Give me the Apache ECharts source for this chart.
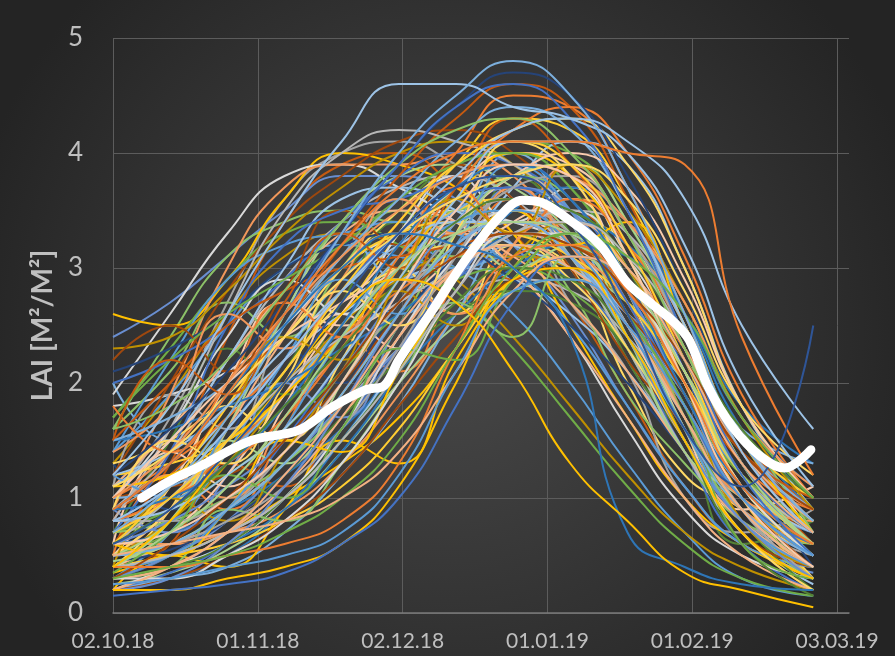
<!DOCTYPE html>
<html>
<head>
<meta charset="utf-8">
<script src="https://cdn.jsdelivr.net/npm/echarts@6/dist/echarts.min.js"></script>
<style>
html,body{margin:0;padding:0;background:#2a2a2a;}
#chart{width:895px;height:656px;}
</style>
</head>
<body>
<div id="chart"></div>
<script>
// Days since 02.10.18 at which each LAI curve is sampled
const sampleDays = [0, 12, 24, 36, 48, 60, 72, 84, 96, 108, 120, 132, 147];

// Early developing fields
const earlyCurves = [
  [1.0,1.7,2.7,3.6,4.0,4.1,3.9,3.6,3.0,2.2,1.4,0.8,0.5],
  [0.6,1.3,2.4,3.4,3.9,4.0,3.7,3.3,2.7,1.9,1.1,0.6,0.4],
  [2.4,2.7,3.1,3.5,3.8,3.8,3.6,3.2,2.6,1.8,1.1,0.6,0.35],
  [1.6,2.4,3.1,3.4,3.5,3.4,3.5,3.6,3.1,2.3,1.4,0.8,0.6],
  [0.5,1.1,2.0,2.7,2.5,2.7,3.1,3.4,3.2,2.5,1.5,0.9,0.5],
  [2.6,2.5,2.9,3.6,4.0,3.9,3.7,3.3,2.5,1.7,1.0,0.6,0.3],
  [1.9,2.6,3.3,3.8,3.9,3.7,3.4,3.0,2.4,1.6,0.9,0.5,0.3],
  [0.9,1.9,3.0,3.7,3.9,3.9,4.0,3.8,3.2,2.4,1.5,0.9,0.6],
  [1.2,2.0,2.8,3.4,3.8,4.1,4.2,4.0,3.5,2.7,1.8,1.1,0.7],
  [0.4,0.8,1.6,2.6,3.4,3.8,3.9,3.7,3.3,2.6,1.6,0.8,0.4],
  [1.4,2.2,2.9,3.2,3.3,3.4,3.3,3.0,2.5,1.8,1.1,0.6,0.4],
  [2.3,2.4,2.8,3.3,3.7,4.0,4.1,3.9,3.4,2.6,1.7,1.0,0.6],
  [0.8,1.6,2.6,3.5,4.0,4.2,4.1,3.9,3.5,2.9,2.0,1.2,0.7],
  [1.1,1.5,2.2,3.0,3.6,3.7,3.5,3.2,3.0,2.6,1.9,1.1,0.7],
  [0.7,1.4,2.5,3.2,3.5,3.6,3.8,3.9,3.6,2.8,1.8,1.0,0.6],
  [1.7,2.2,2.6,2.9,3.2,3.6,3.9,4.0,3.7,2.9,1.9,1.2,0.8]
];

// Main group
const mainCurves = [
  [0.3,0.5,0.9,1.5,2.2,2.9,3.5,3.9,3.8,3.2,2.1,1.1,0.5],
  [0.5,0.7,1.1,1.7,2.4,3.1,3.7,4.1,4.0,3.4,2.4,1.3,0.6],
  [0.2,0.3,0.5,0.9,1.5,2.2,2.9,3.4,3.3,2.7,1.8,1.0,0.4],
  [0.8,1.0,1.4,2.0,2.6,3.3,3.9,4.3,4.2,3.6,2.6,1.5,0.8],
  [0.4,0.6,0.8,1.2,1.7,2.4,3.0,3.3,3.1,2.5,1.5,0.7,0.3],
  [1.0,1.3,1.7,2.2,2.8,3.4,4.0,4.5,4.4,3.7,2.6,1.5,0.9],
  [0.3,0.4,0.7,1.2,1.9,2.7,3.3,3.6,3.4,2.8,1.9,1.0,0.5],
  [0.6,0.9,1.4,2.1,2.9,3.5,3.9,4.0,3.7,3.0,2.0,1.1,0.6],
  [0.2,0.3,0.4,0.7,1.2,1.8,2.6,3.2,3.2,2.8,2.0,1.1,0.5],
  [1.3,1.5,1.9,2.4,3.0,3.5,3.9,4.2,4.3,3.9,3.0,1.8,1.0],
  [0.5,0.6,0.9,1.4,2.0,2.7,3.2,3.5,3.3,2.6,1.7,0.9,0.4],
  [0.9,1.2,1.8,2.5,3.2,3.8,4.3,4.6,4.4,3.6,2.5,1.4,0.8],
  [0.3,0.5,0.8,1.3,1.8,2.3,2.9,3.3,3.2,2.9,2.3,1.5,0.9],
  [0.7,0.8,1.0,1.3,1.8,2.5,3.3,3.8,3.6,2.8,1.7,0.8,0.3],
  [0.4,0.7,1.2,1.9,2.6,3.2,3.7,4.0,3.9,3.3,2.3,1.3,0.7],
  [1.1,1.2,1.5,1.9,2.4,3.0,3.6,4.0,3.8,3.1,2.0,1.0,0.5],
  [0.2,0.4,0.6,1.0,1.6,2.4,3.1,3.5,3.5,3.0,2.1,1.2,0.6],
  [0.6,0.8,1.1,1.5,2.1,2.8,3.4,3.7,3.5,2.8,1.9,1.0,0.5],
  [1.5,1.7,2.0,2.5,3.1,3.6,4.1,4.4,4.2,3.5,2.5,1.5,0.9],
  [0.3,0.4,0.7,1.1,1.7,2.4,3.0,3.4,3.4,3.0,2.3,1.4,0.8],
  [0.8,1.1,1.6,2.2,2.8,3.3,3.6,3.7,3.4,2.7,1.8,1.0,0.5],
  [0.5,0.6,0.8,1.1,1.6,2.3,3.1,3.7,3.8,3.3,2.4,1.4,0.7],
  [0.4,0.5,0.9,1.6,2.4,3.0,3.4,3.5,3.2,2.5,1.6,0.8,0.4],
  [1.2,1.6,2.1,2.7,3.3,3.9,4.4,4.7,4.5,3.8,2.8,1.7,1.0],
  [0.3,0.3,0.5,0.8,1.3,2.0,2.8,3.3,3.3,2.9,2.0,1.1,0.5],
  [0.9,1.0,1.3,1.8,2.5,3.2,3.7,3.9,3.6,2.9,1.9,1.1,0.6],
  [0.6,0.9,1.3,1.8,2.3,2.9,3.4,3.6,3.5,3.1,2.4,1.6,1.0],
  [0.2,0.3,0.6,1.1,1.8,2.6,3.2,3.4,3.1,2.4,1.5,0.8,0.3],
  [1.0,1.4,2.0,2.6,3.1,3.5,3.8,3.9,3.8,3.4,2.7,1.7,1.1],
  [0.4,0.5,0.7,1.0,1.5,2.1,2.8,3.3,3.4,3.1,2.4,1.5,0.8],
  [0.7,1.0,1.5,2.1,2.8,3.4,3.9,4.1,3.9,3.2,2.2,1.2,0.6],
  [0.5,0.6,0.9,1.3,1.9,2.6,3.2,3.4,3.1,2.4,1.6,0.9,0.5],
  [1.6,1.8,2.2,2.8,3.4,3.9,4.2,4.3,4.0,3.3,2.3,1.3,0.7],
  [0.3,0.6,1.0,1.5,2.1,2.7,3.1,3.3,3.2,2.8,2.2,1.4,0.9],
  [0.8,0.9,1.2,1.6,2.2,2.9,3.6,4.1,4.1,3.5,2.5,1.4,0.7],
  [0.2,0.4,0.7,1.2,1.8,2.5,3.0,3.2,3.0,2.5,1.7,0.9,0.4],
  [1.1,1.4,1.9,2.4,2.9,3.3,3.6,3.8,3.9,3.6,2.8,1.8,1.2],
  [0.6,0.7,1.0,1.4,2.0,2.8,3.5,3.9,3.8,3.1,2.0,1.0,0.4],
  [0.4,0.7,1.1,1.7,2.4,3.0,3.3,3.4,3.3,2.9,2.1,1.2,0.6],
  [0.9,1.3,1.9,2.6,3.3,3.9,4.4,4.6,4.3,3.5,2.4,1.3,0.7]
];

// Mixed shapes
const mixedCurves = [
  [0.35,0.5,0.7,1.0,1.3,1.7,2.3,3.0,3.4,3.2,2.4,1.3,0.6],
  [1.8,1.9,2.1,2.5,3.0,3.3,3.5,3.4,3.2,2.8,2.0,1.1,0.6],
  [0.6,0.6,0.7,0.9,1.3,1.9,2.6,3.2,3.6,3.4,2.7,1.7,1.0],
  [1.0,1.1,1.2,1.5,2.0,2.6,3.2,3.5,3.3,2.7,1.9,1.2,0.8],
  [0.25,0.35,0.55,0.9,1.4,2.0,2.5,2.8,2.9,2.7,2.1,1.2,0.5],
  [1.4,1.9,2.5,3.0,3.2,3.1,3.0,3.1,3.0,2.6,1.8,1.0,0.5],
  [0.5,0.8,1.3,1.9,2.5,2.9,3.1,3.1,3.0,2.7,2.0,1.2,0.7],
  [0.9,1.4,2.2,2.9,3.4,3.7,3.8,3.6,3.1,2.3,1.4,0.7,0.3],
  [0.4,0.5,0.7,1.0,1.5,2.2,3.0,3.7,4.1,3.9,3.0,1.8,0.9],
  [2.0,2.2,2.5,2.9,3.4,3.8,4.0,3.9,3.5,2.8,1.9,1.1,0.6],
  [0.7,0.9,1.2,1.6,2.1,2.6,2.9,3.0,2.8,2.3,1.6,0.9,0.4],
  [0.3,0.4,0.6,0.9,1.4,2.1,2.9,3.5,3.7,3.4,2.6,1.6,0.9],
  [1.2,1.3,1.5,1.9,2.5,3.1,3.5,3.6,3.4,3.0,2.3,1.5,1.0],
  [0.5,0.9,1.6,2.4,3.0,3.3,3.3,3.1,2.7,2.1,1.4,0.8,0.4],
  [0.8,1.0,1.3,1.7,2.3,3.0,3.7,4.2,4.4,4.0,3.1,1.9,1.0],
  [0.45,0.55,0.8,1.2,1.8,2.5,3.1,3.4,3.3,2.9,2.2,1.4,0.8],
  [1.5,1.6,1.8,2.0,2.3,2.6,3.0,3.3,3.4,3.2,2.6,1.7,1.1],
  [0.6,1.0,1.5,2.0,2.4,2.7,3.0,3.3,3.5,3.3,2.5,1.5,0.8],
  [0.2,0.3,0.5,0.8,1.2,1.8,2.4,2.9,3.0,2.6,1.9,1.0,0.4],
  [1.0,1.5,2.0,2.4,2.7,3.0,3.4,3.8,4.0,3.7,2.9,1.8,1.0]
];

// Irregular, wobbly fields
const irregularCurves = [
  [0.5,1.2,0.9,1.6,2.4,2.1,2.9,3.6,3.2,2.4,1.8,0.9,0.6],
  [1.3,0.9,1.5,2.3,2.0,2.8,3.5,3.1,3.6,2.9,1.7,1.2,0.4],
  [0.7,1.5,2.3,1.9,2.7,3.4,3.0,3.8,3.3,2.2,1.5,0.6,0.8],
  [2.0,1.5,1.8,2.6,3.3,2.9,3.4,4.0,3.4,2.5,2.0,1.0,0.5],
  [0.4,0.9,1.8,1.5,2.2,3.0,2.6,3.2,3.0,2.0,1.2,0.9,0.3],
  [1.1,1.9,1.6,2.5,3.1,3.6,3.2,3.5,2.7,2.1,1.0,0.7,0.9],
  [0.3,0.6,1.3,1.1,1.9,2.6,3.3,2.9,3.5,3.0,2.0,1.3,0.6],
  [0.9,0.7,1.2,2.0,1.7,2.5,3.1,3.7,3.1,2.6,2.2,1.1,0.7],
  [1.6,2.1,2.7,2.4,3.0,3.5,3.1,3.3,2.8,1.9,1.3,0.8,0.3],
  [0.6,1.4,1.1,1.8,2.6,2.3,3.0,3.4,3.6,2.8,1.6,0.9,1.1],
  [0.2,0.5,0.4,0.9,1.5,1.3,2.2,2.9,3.3,2.7,2.1,1.0,0.6],
  [1.0,1.6,2.4,2.9,2.6,3.3,3.8,3.4,3.7,3.1,2.3,1.5,0.7],
  [0.8,1.2,1.0,1.7,2.3,2.9,2.6,3.2,3.9,3.3,2.5,1.4,0.9],
  [2.2,2.5,2.1,2.8,3.5,3.2,3.9,3.6,3.0,2.2,1.6,0.7,0.4],
  [0.5,0.8,1.5,1.3,2.0,2.8,3.4,3.0,3.2,2.4,1.4,1.0,0.5],
  [1.2,1.0,1.6,2.2,2.9,2.6,3.2,3.9,3.5,2.6,1.9,1.2,0.6],
  [0.4,1.0,0.8,1.4,2.1,2.8,2.5,3.1,3.4,3.0,2.0,0.8,0.4],
  [1.4,1.8,2.6,2.3,2.9,3.6,3.3,3.7,3.2,2.7,1.7,1.0,0.8],
  [0.3,0.4,0.9,0.8,1.3,2.0,2.7,2.4,3.1,2.9,2.2,1.6,0.7],
  [0.9,1.5,1.3,2.0,2.8,2.5,3.3,4.1,3.8,2.9,2.1,1.1,0.5],
  [1.8,1.4,2.0,2.7,2.4,3.1,3.7,3.3,3.6,3.2,2.4,1.3,0.9],
  [0.6,0.5,0.9,1.5,1.4,2.1,2.9,3.5,3.2,3.4,2.5,1.5,0.7],
  [0.35,0.7,1.2,1.0,1.6,2.3,2.2,2.9,3.3,2.6,1.8,0.6,0.3],
  [1.5,2.2,1.9,2.7,3.3,3.0,3.7,4.3,3.9,3.2,2.2,1.4,1.0],
  [0.7,1.1,1.7,2.4,2.2,2.9,3.6,3.3,3.9,3.5,2.7,1.7,0.9]
];

// Moderate fields with lower peaks
const moderateCurves = [
  [0.3,0.7,1.4,2.2,2.9,3.2,3.0,2.6,2.0,1.3,0.7,0.3,0.15],
  [1.3,1.9,2.6,3.1,3.3,3.2,2.9,2.4,1.8,1.2,0.7,0.4,0.2],
  [0.5,0.6,0.9,1.3,1.8,2.3,2.7,2.9,2.8,2.4,1.7,0.9,0.3],
  [0.9,1.2,1.7,2.2,2.6,2.9,3.0,2.9,2.6,2.1,1.4,0.7,0.25],
  [0.2,0.35,0.6,1.0,1.6,2.3,2.9,3.1,2.9,2.3,1.4,0.6,0.2],
  [1.7,2.3,2.9,3.3,3.4,3.2,2.8,2.3,1.7,1.1,0.6,0.3,0.15],
  [0.6,0.7,0.9,1.2,1.6,2.1,2.6,3.0,3.2,3.1,2.6,1.8,1.3],
  [0.4,0.5,0.6,0.8,1.1,1.6,2.3,2.9,3.1,2.8,2.0,1.0,0.3],
  [1.1,1.6,2.2,2.8,3.3,3.5,3.4,3.0,2.4,1.7,1.0,0.5,0.2],
  [0.7,1.0,1.4,1.9,2.4,2.8,3.1,3.2,3.0,2.5,1.8,1.0,0.4],
  [2.1,2.3,2.6,3.0,3.2,3.3,3.2,2.9,2.5,2.0,1.4,0.8,0.4],
  [0.3,0.5,0.8,1.2,1.7,2.2,2.6,2.8,2.7,2.3,1.6,0.8,0.2],
  [1.0,1.1,1.4,1.9,2.5,3.1,3.5,3.7,3.5,3.0,2.3,1.6,1.3],
  [0.5,0.9,1.5,2.1,2.7,3.0,3.2,3.2,2.9,2.3,1.5,0.7,0.2],
  [0.8,0.8,1.0,1.4,2.0,2.7,3.3,3.6,3.4,2.7,1.8,0.9,0.3],
  [1.5,2.0,2.5,2.8,3.0,3.1,3.2,3.3,3.2,2.9,2.3,1.5,0.9],
  [0.3,0.4,0.6,1.0,1.5,2.1,2.7,3.0,2.9,2.4,1.5,0.6,0.15],
  [0.6,1.1,1.8,2.5,3.0,3.3,3.4,3.3,3.1,2.7,2.0,1.2,0.6],
  [1.2,1.4,1.8,2.3,2.8,3.2,3.4,3.4,3.1,2.5,1.7,0.9,0.4],
  [0.45,0.6,0.9,1.3,1.9,2.6,3.3,3.8,3.9,3.4,2.4,1.3,0.6]
];

// Late developing fields
const lateCurves = [
  [0.2,0.2,0.3,0.4,0.6,1.1,2.0,2.9,3.0,2.4,1.5,0.7,0.3],
  [0.4,0.4,0.5,0.6,0.8,1.3,2.3,3.1,3.2,2.8,2.0,1.1,0.6],
  [0.15,0.2,0.25,0.35,0.6,1.0,1.8,2.7,3.1,2.9,2.2,1.2,0.5],
  [0.3,0.4,0.5,0.7,1.0,1.5,2.3,3.0,3.3,3.1,2.6,1.7,1.0],
  [0.5,0.6,0.7,0.8,1.0,1.4,2.1,2.8,3.1,2.9,2.2,1.3,0.7],
  [0.25,0.3,0.4,0.5,0.7,1.2,2.1,2.8,2.9,2.5,1.8,1.0,0.5]
];
const lateColors = ['#FFC000', '#ED7D31', '#4472C4', '#70AD47', '#F4B183', '#5B9BD5'];

// Special shapes: very high, early collapse, late persistence, late regrowth
const specialCurves = [
  [1.2,1.8,2.6,3.4,4.1,4.6,4.6,4.4,4.3,4.0,3.2,2.0,1.1],
  [0.7,1.1,1.7,2.5,3.3,4.0,4.5,4.8,4.5,3.7,2.6,1.5,0.8],
  [0.9,1.3,1.9,2.5,3.0,3.3,3.2,3.0,2.4,0.7,0.4,0.25,0.2],
  [0.4,0.8,1.4,2.0,2.6,2.9,2.7,2.1,1.3,0.8,0.35,0.2,0.05],
  [0.8,1.1,1.6,2.2,2.8,3.3,3.8,4.2,4.3,4.1,3.6,2.5,1.6],
  [0.9,1.3,1.9,2.6,3.2,3.7,4.0,4.1,4.1,4.0,3.9,2.4,1.2],
  [0.6,0.9,1.4,2.0,2.7,3.3,3.7,3.8,3.4,2.6,1.6,1.1,2.5]
];
const specialColors = ['#9DC3E6', '#7CAFDD', '#2E75B6', '#FFC000', '#9DC3E6', '#ED7D31', '#2F5597'];

// Mean LAI curve (thick white)
const meanDays   = [6, 12, 18, 29, 39, 46, 53, 57, 60, 67, 74, 81, 86, 90, 95, 102, 108, 113, 118, 121, 125, 130, 136, 141, 146.5];
const meanValues = [1.0, 1.15, 1.27, 1.5, 1.59, 1.79, 1.94, 1.98, 2.2, 2.63, 3.07, 3.44, 3.59, 3.57, 3.44, 3.21, 2.87, 2.69, 2.52, 2.37, 1.96, 1.62, 1.36, 1.26, 1.42];

const xTickLabels = ['02.10.18', '01.11.18', '02.12.18', '01.01.19', '01.02.19', '03.03.19'];
const yTickLabels = ['0', '1', '2', '3', '4', '5'];

const palette = ['#4472C4','#ED7D31','#A5A5A5','#FFC000','#5B9BD5','#70AD47',
                 '#264478','#C55A11','#D9D9D9','#BF9000','#2E75B6','#548235',
                 '#698ED0','#F1975A','#B7B7B7','#FFCD33','#7CAFDD','#8CC168',
                 '#9E480E','#9DC3E6','#F4B183','#FFD966','#F8CBAD','#A9D18E'];

// interleave groups so colours and shapes mix
const groups = [mainCurves, irregularCurves, earlyCurves, mixedCurves, moderateCurves];
const ordered = [];
const maxLen = Math.max(...groups.map(g => g.length));
for (let i = 0; i < maxLen; i++) {
  groups.forEach(g => { if (i < g.length) ordered.push(g[i]); });
}

function lineSeries(c, color) {
  return {
    type: 'line',
    data: sampleDays.map((d, i) => [d, c[i]]),
    smooth: 0.5,
    showSymbol: false,
    silent: true,
    lineStyle: { width: 2, color: color }
  };
}

const series = ordered.map((c, k) => lineSeries(c, palette[k % palette.length]));
lateCurves.forEach((c, k) => series.push(lineSeries(c, lateColors[k])));
specialCurves.forEach((c, k) => series.push(lineSeries(c, specialColors[k])));

series.push({
  type: 'line',
  data: meanDays.map((d, i) => [d, meanValues[i]]),
  smooth: 0.35,
  showSymbol: false,
  silent: true,
  z: 10,
  lineStyle: { width: 9, color: '#ffffff', cap: 'round', join: 'round' }
});

const chart = echarts.init(document.getElementById('chart'), null, { renderer: 'canvas' });
chart.setOption({
  animation: false,
  backgroundColor: {
    type: 'radial', x: 0.5, y: 0.5, r: 0.75,
    colorStops: [{ offset: 0, color: '#4a4a4a' }, { offset: 1, color: '#242424' }]
  },
  textStyle: { fontFamily: 'Lato' },
  grid: { left: 113, right: 46, top: 38, bottom: 43, containLabel: false },
  xAxis: {
    type: 'value', min: 0, max: 154.5, interval: 30.4,
    axisLine: { show: true, lineStyle: { color: '#7a7a7a', width: 1.5 } },
    axisTick: { show: false },
    splitLine: { show: true, showMinLine: true, showMaxLine: false, lineStyle: { color: '#5c5c5c', width: 1 } },
    axisLabel: {
      color: '#bfbfbf', fontSize: 21, fontFamily: 'Lato', margin: 18, showMaxLabel: false,
      formatter: v => xTickLabels[Math.round(v / 30.4)] || ''
    }
  },
  yAxis: {
    type: 'value', min: 0, max: 5, interval: 1,
    name: 'LAI [M²/M²]', nameLocation: 'middle', nameGap: 56,
    nameTextStyle: { color: '#bfbfbf', fontSize: 28, fontWeight: 'bold', fontFamily: 'Lato' },
    axisLine: { show: false },
    axisTick: { show: false },
    splitLine: { show: true, lineStyle: { color: '#5c5c5c', width: 1 } },
    axisLabel: {
      color: '#bfbfbf', fontSize: 26, fontFamily: 'Lato', margin: 30,
      formatter: v => yTickLabels[Math.round(v)]
    }
  },
  series: series
});
</script>
</body>
</html>
